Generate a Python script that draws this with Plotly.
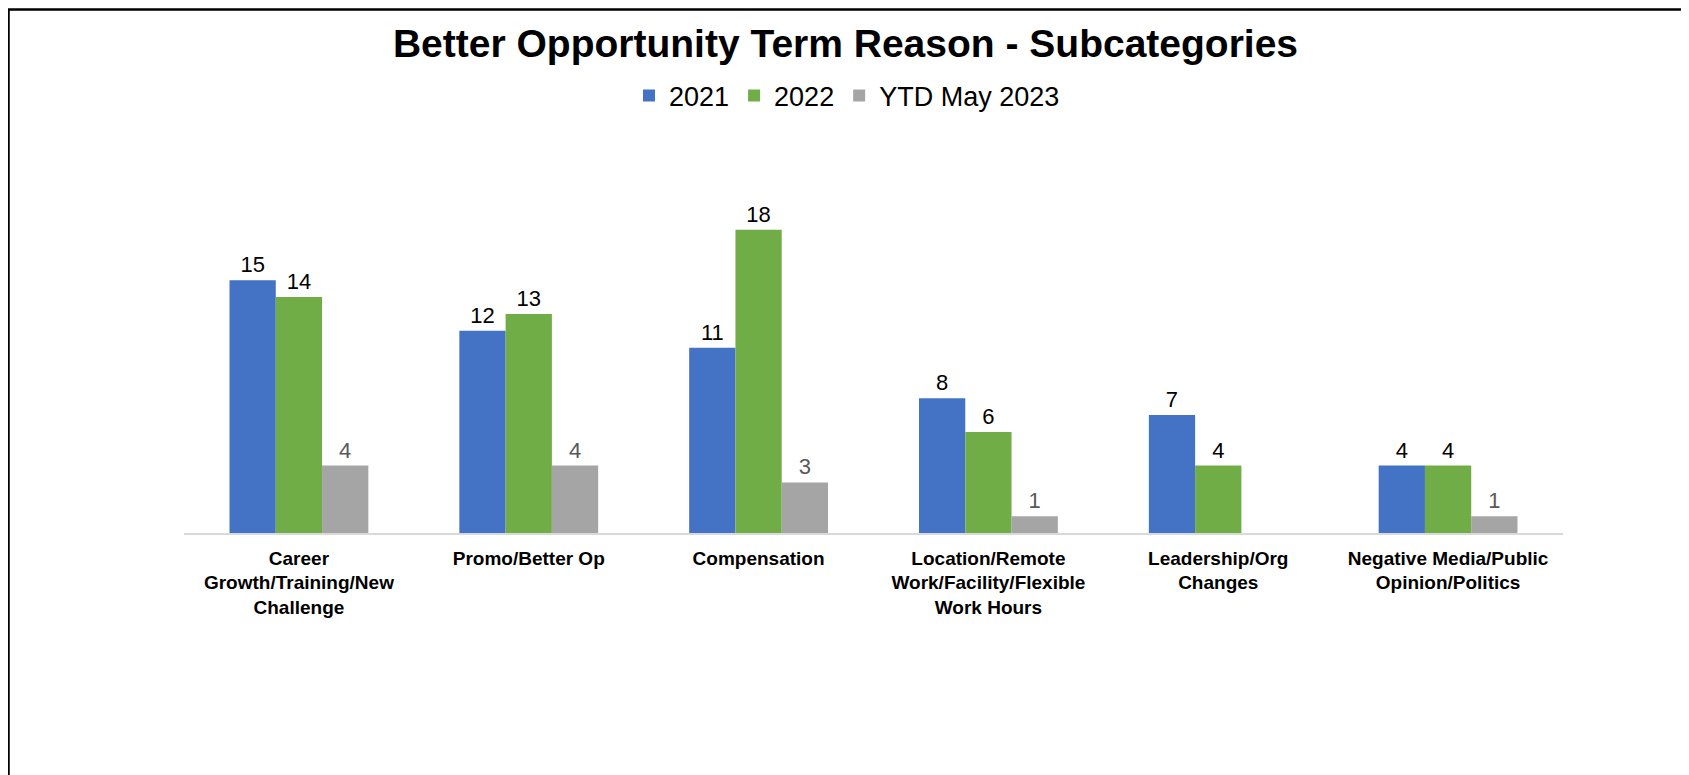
import plotly.graph_objects as go

categories = [
    "Career<br>Growth/Training/New<br>Challenge",
    "Promo/Better Op",
    "Compensation",
    "Location/Remote<br>Work/Facility/Flexible<br>Work Hours",
    "Leadership/Org<br>Changes",
    "Negative Media/Public<br>Opinion/Politics",
]
series_names = ["2021", "2022", "YTD May 2023"]
values_2021 = [15, 12, 11, 8, 7, 4]
values_2022 = [14, 13, 18, 6, 4, 4]
values_ytd = [4, 4, 3, 1, None, 1]

colors = ["#4472C4", "#70AD47", "#A5A5A5"]
label_colors = ["#000000", "#000000", "#595959"]

W, H = 1689, 775
OFF = 8  # page body margin
L, R = 184 - OFF, W - (1563 - OFF)
T, B = 196 - OFF, H - (533 - OFF)
FONT = "Arial, 'Liberation Sans', sans-serif"

fig = go.Figure()
for name, vals, c, lc in zip(series_names, [values_2021, values_2022, values_ytd], colors, label_colors):
    fig.add_trace(go.Bar(
        name=name, x=categories, y=vals,
        marker=dict(color=c, line=dict(width=0)),
        text=[("" if v is None else str(v)) for v in vals],
        textposition="outside",
        textfont=dict(family=FONT, size=22, color=lc),
        cliponaxis=False,
    ))

plot_h = H - T - B
plot_w = W - L - R

def px_to_paper_x(px):
    return (px - L) / plot_w

def px_to_paper_y(py):
    return (H - B - py) / plot_h

fig.update_layout(
    width=W, height=H,
    margin=dict(l=L, r=R, t=T, b=B, autoexpand=False),
    paper_bgcolor="white", plot_bgcolor="white",
    barmode="group", bargap=0.396, bargroupgap=0,
    font=dict(family=FONT, color="#000000"),
    title=dict(
        text="<b>Better Opportunity Term Reason - Subcategories</b>",
        x=(845.5 - OFF) / W, xanchor="center", xref="container",
        y=1 - (43 - OFF) / H, yanchor="middle", yref="container",
        font=dict(family=FONT, size=39, color="#000000"),
    ),
    legend=dict(
        orientation="h",
        x=px_to_paper_x(839), xanchor="center",
        y=px_to_paper_y(96 - OFF), yanchor="middle",
        font=dict(family=FONT, size=27, color="#000000"),
        itemwidth=30,
        bgcolor="rgba(0,0,0,0)",
    ),
    xaxis=dict(
        showline=True, linecolor="#D9D9D9", linewidth=1.5,
        ticks="", showgrid=False, zeroline=False,
        tickfont=dict(family=FONT, size=19, color="#000000", weight="bold"),
        ticklabelstandoff=7,
    ),
    yaxis=dict(
        range=[0, 20], showgrid=False, zeroline=False,
        showticklabels=False, showline=False, ticks="",
    ),
    showlegend=True,
)

fig.add_shape(
    type="rect", xref="paper", yref="paper",
    x0=px_to_paper_x(0.5), x1=px_to_paper_x(1686 - OFF),
    y0=px_to_paper_y(820), y1=px_to_paper_y(1.5),
    line=dict(color="#000000", width=2.5),
    fillcolor="rgba(0,0,0,0)", layer="above",
)

fig.write_html("out.html")
